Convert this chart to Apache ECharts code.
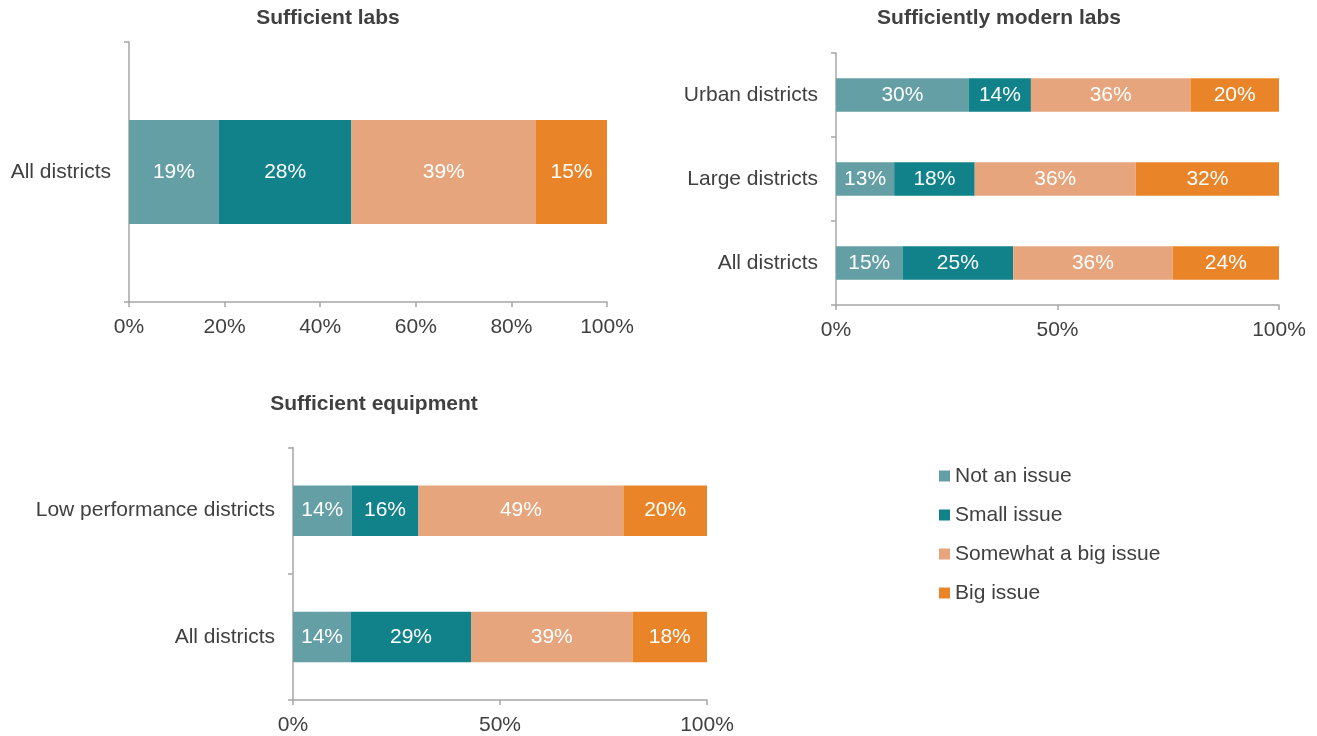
<!DOCTYPE html>
<html>
<head>
<meta charset="utf-8">
<script src="https://cdn.jsdelivr.net/npm/echarts@6/dist/echarts.min.js"></script>
<style>
  html, body { margin: 0; padding: 0; background: #ffffff; }
  #chart { width: 1317px; height: 736px; }
</style>
</head>
<body>
<div id="chart"></div>
<script>
// Survey responses: how much of an issue each item is, share of districts (%)
const seriesNames = ['Not an issue', 'Small issue', 'Somewhat a big issue', 'Big issue'];
const seriesColors = ['#649fa5', '#11828a', '#e6a57c', '#e98428'];

// Panel 1: Sufficient labs
const labsTitle = 'Sufficient labs';
const labsCategories = ['All districts'];
const labsNotIssue = [19];
const labsSmall = [28];
const labsSomewhat = [39];
const labsBig = [15];
const labsTicks = [0, 20, 40, 60, 80, 100];

// Panel 2: Sufficiently modern labs
const modernTitle = 'Sufficiently modern labs';
const modernCategories = ['Urban districts', 'Large districts', 'All districts'];
const modernNotIssue = [30, 13, 15];
const modernSmall = [14, 18, 25];
const modernSomewhat = [36, 36, 36];
const modernBig = [20, 32, 24];
const modernTicks = [0, 50, 100];

// Panel 3: Sufficient equipment
const equipTitle = 'Sufficient equipment';
const equipCategories = ['Low performance districts', 'All districts'];
const equipNotIssue = [14, 14];
const equipSmall = [16, 29];
const equipSomewhat = [49, 39];
const equipBig = [20, 18];
const equipTicks = [0, 50, 100];

const FONT = "'Liberation Sans', Arial, sans-serif";
const TEXT = '#404040';
const AXIS = '#a6a6a6';
const FS = 21;

const panels = [
  { title: labsTitle, cats: labsCategories, rows: [labsNotIssue, labsSmall, labsSomewhat, labsBig], ticks: labsTicks,
    grid: { left: 129, top: 42, width: 478, height: 260 }, titleX: 328, titleY: 8 },
  { title: modernTitle, cats: modernCategories, rows: [modernNotIssue, modernSmall, modernSomewhat, modernBig], ticks: modernTicks,
    grid: { left: 836, top: 53, width: 443, height: 252 }, titleX: 999, titleY: 8 },
  { title: equipTitle, cats: equipCategories, rows: [equipNotIssue, equipSmall, equipSomewhat, equipBig], ticks: equipTicks,
    grid: { left: 293, top: 447.5, width: 414, height: 252.5 }, titleX: 374, titleY: 394 }
];

const option = {
  animation: false,
  backgroundColor: '#ffffff',
  textStyle: { fontFamily: FONT },
  title: [],
  grid: [],
  xAxis: [],
  yAxis: [],
  series: [],
  legend: {
    orient: 'vertical',
    left: 939,
    top: 465.5,
    padding: 0,
    itemGap: 18,
    itemWidth: 11,
    itemHeight: 11,
    icon: 'rect',
    data: seriesNames,
    textStyle: { color: TEXT, fontSize: FS, fontFamily: FONT, lineHeight: 21 }
  }
};

panels.forEach((p, gi) => {
  option.title.push({
    text: p.title,
    left: p.titleX,
    top: p.titleY,
    textAlign: 'center',
    padding: 0,
    textStyle: { color: TEXT, fontSize: FS, fontWeight: 'bold', fontFamily: FONT }
  });
  option.grid.push(Object.assign({ containLabel: false }, p.grid));
  const tickStep = p.ticks[1] - p.ticks[0];
  option.xAxis.push({
    type: 'value',
    gridIndex: gi,
    min: p.ticks[0],
    max: p.ticks[p.ticks.length - 1],
    interval: tickStep,
    axisLine: { show: true, lineStyle: { color: AXIS, width: 1.5 } },
    axisTick: { show: true, length: 5, lineStyle: { color: AXIS, width: 1.5 } },
    splitLine: { show: false },
    axisLabel: { formatter: '{value}%', color: TEXT, fontSize: FS, fontFamily: FONT, margin: 15 }
  });
  option.yAxis.push({
    type: 'category',
    gridIndex: gi,
    inverse: true,
    data: p.cats,
    axisLine: { show: true, lineStyle: { color: AXIS, width: 1.5 } },
    axisTick: { show: true, length: 5, lineStyle: { color: AXIS, width: 1.5 } },
    axisLabel: { color: TEXT, fontSize: FS, fontFamily: FONT, margin: 18 }
  });
  // Each bar is a 100% stack: segment share = value / row total
  const totals = p.cats.map((_, ci) => p.rows.reduce((s, r) => s + r[ci], 0));
  p.rows.forEach((row, si) => {
    option.series.push({
      name: seriesNames[si],
      type: 'bar',
      xAxisIndex: gi,
      yAxisIndex: gi,
      stack: 'panel' + gi,
      barCategoryGap: '60%',
      itemStyle: { color: seriesColors[si] },
      label: {
        show: true,
        position: 'inside',
        color: '#ffffff',
        fontSize: FS,
        fontFamily: FONT,
        formatter: (params) => row[params.dataIndex] + '%'
      },
      data: row.map((v, ci) => v / totals[ci] * 100)
    });
  });
});

const chart = echarts.init(document.getElementById('chart'), null, { renderer: 'canvas' });
chart.setOption(option);
</script>
</body>
</html>
